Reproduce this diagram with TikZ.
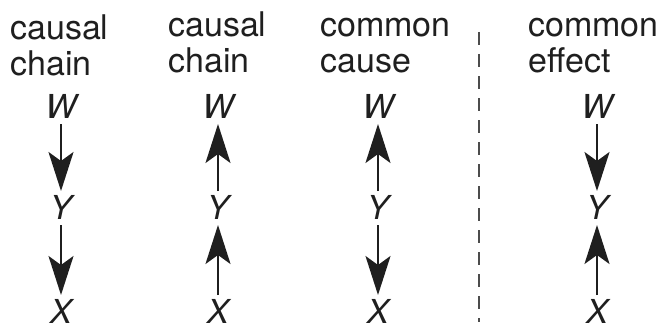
\documentclass[tikz,border=0pt]{standalone}
\usepackage{fontspec}
\setmainfont{TeX Gyre Heros}
\usetikzlibrary{arrows.meta}
\tikzset{
  lbl/.style={anchor=base west, inner sep=0pt, font=\fontsize{34}{36}\selectfont, text=black!88},
  var/.style={inner sep=0pt, outer sep=0pt, text height=23pt, text depth=0pt, font=\fontsize{33}{35}\selectfont\itshape, text=black!88},
  arr/.style={line width=2pt, draw=black!88, -{Stealth[length=39pt, width=25pt, inset=9pt]}, shorten <=5.5pt, shorten >=5.5pt},
  sep/.style={line width=1.5pt, draw=black!70, dash pattern=on 13pt off 9pt}
}
\begin{document}
\begin{tikzpicture}[x=1pt, y=-1pt]
\useasboundingbox (0,0) rectangle (661,329);
% labels
\node[lbl] (t1a) at (10,40) {causal};
\node[lbl] (t1b) at (10,75) {chain};
\node[lbl] (t2a) at (168,37) {causal};
\node[lbl] (t2b) at (168,73) {chain};
\node[lbl] (t3a) at (320,37) {common};
\node[lbl] (t3b) at (320,73) {cause};
\node[lbl] (t4a) at (528,37) {common};
\node[lbl] (t4b) at (528,73) {effect};
% variables
\foreach \c/\x in {1/61, 2/218, 3/378, 4/597}{
  \node[var] (w\c) at (\x,107) {W};
  \node[var] (y\c) at (\x,208) {Y};
  \node[var] (x\c) at (\x,312) {X};
}
% arrows
\draw[arr] (w1) -- (y1);
\draw[arr] (y1) -- (x1);
\draw[arr] (y2) -- (w2);
\draw[arr] (x2) -- (y2);
\draw[arr] (y3) -- (w3);
\draw[arr] (y3) -- (x3);
\draw[arr] (w4) -- (y4);
\draw[arr] (x4) -- (y4);
% separator
\coordinate (dtop) at (479,32);
\coordinate (dbot) at (479,322);
\draw[sep] (dtop) -- (dbot);
\end{tikzpicture}
\end{document}
